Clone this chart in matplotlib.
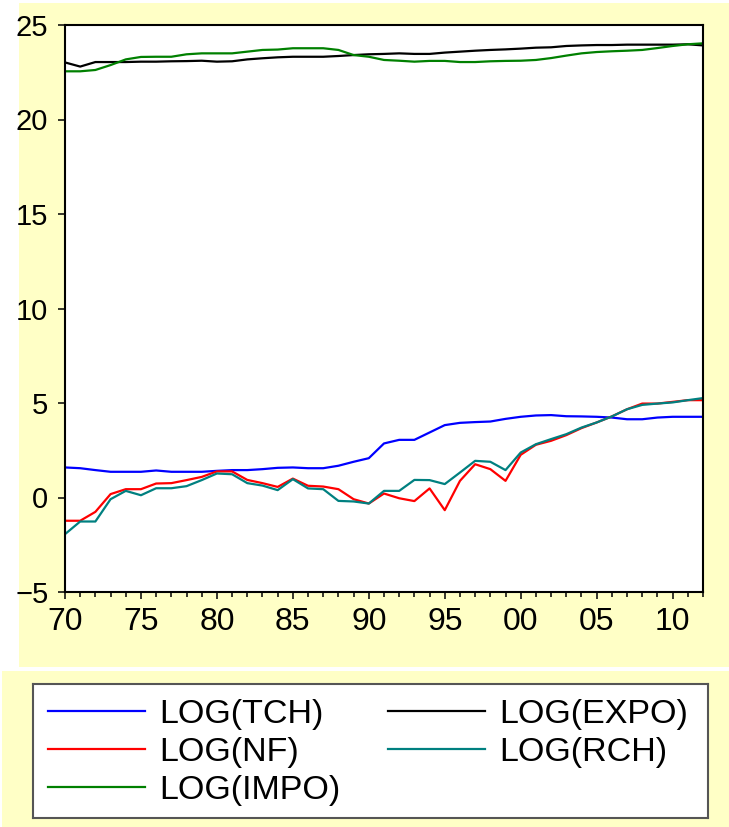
import matplotlib.pyplot as plt
from matplotlib.patches import Rectangle
from matplotlib.ticker import MultipleLocator, FuncFormatter

plt.rcParams['font.family'] = ['Liberation Sans', 'DejaVu Sans']

# años 1970-2012
anios = list(range(1970, 2013))

# series
log_tch = [1.59, 1.55, 1.45, 1.36, 1.36, 1.36, 1.43, 1.36, 1.36, 1.36,
           1.41, 1.45, 1.45, 1.50, 1.57, 1.59, 1.55, 1.55, 1.68, 1.89,
           2.08, 2.86, 3.05, 3.05, 3.44, 3.83, 3.95, 3.99, 4.02, 4.16,
           4.27, 4.34, 4.36, 4.30, 4.29, 4.27, 4.23, 4.14, 4.14, 4.23,
           4.27, 4.27, 4.27]
log_expo = [23.02, 22.80, 23.04, 23.04, 23.04, 23.06, 23.06, 23.08, 23.09, 23.11,
            23.06, 23.08, 23.18, 23.24, 23.29, 23.32, 23.32, 23.32, 23.36, 23.41,
            23.45, 23.47, 23.50, 23.47, 23.47, 23.54, 23.59, 23.64, 23.68, 23.71,
            23.75, 23.80, 23.82, 23.89, 23.92, 23.94, 23.94, 23.96, 23.96, 23.96,
            23.96, 23.98, 23.92]
log_nf = [-1.23, -1.23, -0.76, 0.18, 0.44, 0.44, 0.74, 0.76, 0.92, 1.09,
          1.38, 1.38, 0.93, 0.76, 0.56, 1.00, 0.62, 0.58, 0.44, -0.09,
          -0.32, 0.21, -0.04, -0.19, 0.48, -0.67, 0.88, 1.76, 1.50, 0.88,
          2.26, 2.79, 3.00, 3.30, 3.67, 3.97, 4.29, 4.67, 4.97, 4.97,
          5.06, 5.15, 5.15]
log_rch = [-1.94, -1.27, -1.27, -0.09, 0.35, 0.12, 0.49, 0.49, 0.60, 0.92,
           1.27, 1.23, 0.76, 0.63, 0.39, 0.97, 0.48, 0.44, -0.18, -0.21,
           -0.32, 0.35, 0.35, 0.93, 0.92, 0.71, 1.32, 1.94, 1.89, 1.45,
           2.38, 2.82, 3.09, 3.35, 3.70, 3.97, 4.29, 4.67, 4.90, 4.97,
           5.03, 5.15, 5.26]
log_impo = [22.55, 22.55, 22.62, 22.88, 23.18, 23.31, 23.32, 23.32, 23.45, 23.50,
            23.50, 23.50, 23.59, 23.68, 23.70, 23.77, 23.77, 23.77, 23.68, 23.41,
            23.32, 23.15, 23.11, 23.06, 23.10, 23.10, 23.04, 23.04, 23.08, 23.10,
            23.11, 23.15, 23.25, 23.38, 23.50, 23.57, 23.61, 23.64, 23.68, 23.78,
            23.89, 23.98, 24.03]

amarillo = '#FFFFC6'
fig = plt.figure(figsize=(7.29, 8.27), dpi=100)
fig.patch.set_facecolor('white')

# paneles amarillos de fondo
fig.patches.append(Rectangle((19/729, 160/827), 710/729, 664/827, transform=fig.transFigure,
                             facecolor=amarillo, edgecolor='none', zorder=-10))
fig.patches.append(Rectangle((2/729, 0), 727/729, 156/827, transform=fig.transFigure,
                             facecolor=amarillo, edgecolor='none', zorder=-10))

ax = fig.add_axes([65/729, 235/827, 638/729, 567/827])
ax.set_facecolor('white')

l1, = ax.plot(anios, log_tch, color='#0000FF', lw=1.6)
l2, = ax.plot(anios, log_expo, color='black', lw=1.6)
l3, = ax.plot(anios, log_nf, color='#FF0000', lw=1.6)
l4, = ax.plot(anios, log_rch, color='#008080', lw=1.6)
l5, = ax.plot(anios, log_impo, color='#008000', lw=1.6)

ax.set_xlim(1970, 2012)
ax.set_ylim(-5, 25)
ax.xaxis.set_major_locator(MultipleLocator(5))
ax.xaxis.set_minor_locator(MultipleLocator(1))
ax.yaxis.set_major_locator(MultipleLocator(5))
ax.xaxis.set_major_formatter(FuncFormatter(lambda v, p: '%02d' % (int(v) % 100)))
ax.tick_params(axis='x', which='major', direction='out', length=5, width=1.1, labelsize=23, pad=6)
ax.tick_params(axis='x', which='minor', direction='out', length=3.5, width=1.1)
ax.tick_params(axis='y', direction='out', length=5, width=1.1, labelsize=21, pad=7)
for s in ax.spines.values():
    s.set_linewidth(1.5)

# leyenda en caja aparte
axl = fig.add_axes([33/729, 9/827, 675/729, 134/827])
axl.set_xticks([])
axl.set_yticks([])
for s in axl.spines.values():
    s.set_linewidth(1.5)
    s.set_color('#555555')
axl.legend([l1, l3, l5, l2, l4],
           ['LOG(TCH)', 'LOG(NF)', 'LOG(IMPO)', 'LOG(EXPO)', 'LOG(RCH)'],
           loc='upper left', bbox_to_anchor=(0.0, 1.0), ncol=2, frameon=False,
           fontsize=24.5, handlelength=2.85, handletextpad=0.42, labelspacing=0.2,
           columnspacing=1.4, borderaxespad=0.0, borderpad=0.45)

plt.savefig('out.png', dpi=100)
